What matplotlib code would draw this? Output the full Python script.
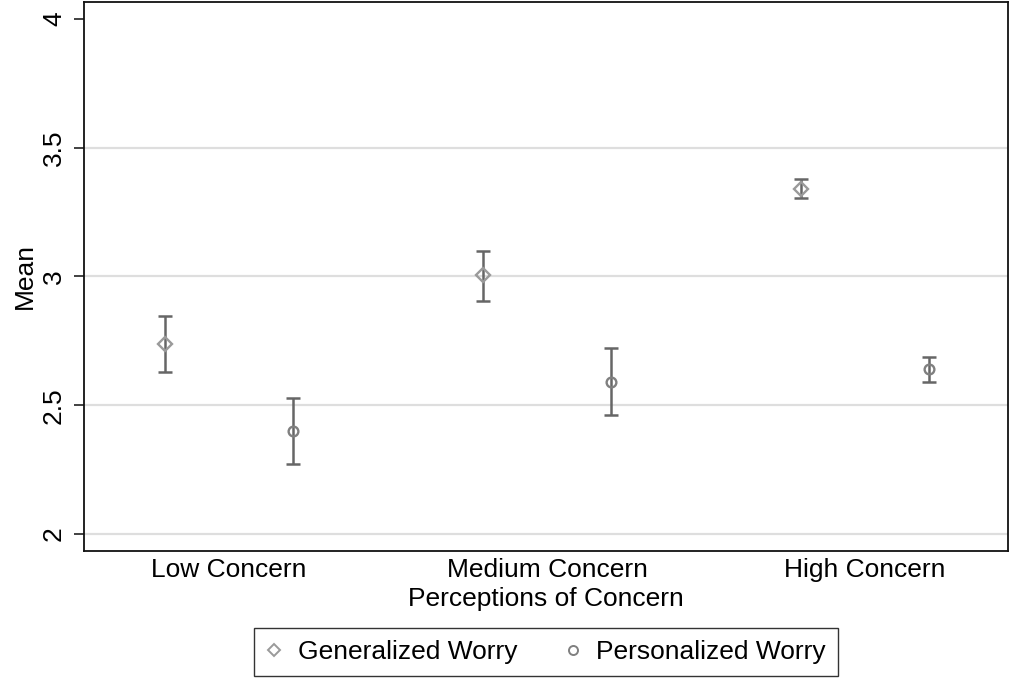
import numpy as np
import matplotlib
matplotlib.use('Agg')
import matplotlib.pyplot as plt
from matplotlib.lines import Line2D

plt.rcParams['font.family'] = ['Liberation Sans', 'DejaVu Sans']

# data
categories = ['Low Concern', 'Medium Concern', 'High Concern']
gen_mean = [2.737, 3.004, 3.341]
gen_lo = [2.629, 2.905, 3.304]
gen_hi = [2.847, 3.100, 3.377]
pers_mean = [2.401, 2.591, 2.640]
pers_lo = [2.270, 2.462, 2.591]
pers_hi = [2.529, 2.721, 2.689]
y_ticks = [2, 2.5, 3, 3.5, 4]
y_labels = ['2', '2.5', '3', '3.5', '4']

bar_col = '#666666'
gen_col = '#9a9a9a'
pers_col = '#808080'
fs = 19

fig = plt.figure(figsize=(10.13, 6.78), dpi=100)
ax = fig.add_axes([84 / 1013, 1 - 550.7 / 678, 924 / 1013, 548.7 / 678])

x = np.arange(len(categories))
off = 0.2

# grid lines
for yv in y_ticks[:-1]:
    ax.axhline(yv, color='#dedede', lw=1.6, zorder=0)

for xs, m, lo, hi, mk, ms, mc in [
        (x - off, gen_mean, gen_lo, gen_hi, 'D', 7, gen_col),
        (x + off, pers_mean, pers_lo, pers_hi, 'o', 7, pers_col)]:
    m = np.array(m)
    err = [m - np.array(lo), np.array(hi) - m]
    ax.errorbar(xs, m, yerr=err, fmt='none', ecolor=bar_col, elinewidth=1.8,
                capsize=5, capthick=1.8, zorder=2)
    ax.plot(xs, m, linestyle='none', marker=mk, markersize=ms,
            markerfacecolor='none', markeredgecolor=mc, markeredgewidth=1.7, zorder=3)

ax.set_xlim(-0.456, 2.45)
ax.set_ylim(1.935, 4.066)
ax.set_xticks(x)
ax.set_xticklabels(categories, fontsize=fs)
ax.set_yticks(y_ticks)
ax.set_yticklabels(y_labels, fontsize=fs, rotation=90, va='center')
ax.tick_params(axis='x', length=0, pad=5)
ax.tick_params(axis='y', length=7, width=1.3, color='#333333', pad=6)
ax.set_ylabel('Mean', fontsize=fs, labelpad=4)
ax.set_xlabel('Perceptions of Concern', fontsize=fs, labelpad=4)
for s in ax.spines.values():
    s.set_linewidth(1.3)
    s.set_color('#111111')

handles = [
    Line2D([], [], linestyle='none', marker='D', markersize=6.5,
           markerfacecolor='none', markeredgecolor=gen_col, markeredgewidth=1.4),
    Line2D([], [], linestyle='none', marker='o', markersize=6.5,
           markerfacecolor='none', markeredgecolor=pers_col, markeredgewidth=1.4),
]
leg = fig.legend(handles, ['Generalized Worry', 'Personalized Worry'], ncol=2,
                 loc='center', bbox_to_anchor=(546 / 1013, 1 - 652 / 678),
                 fontsize=fs, frameon=True, fancybox=False, edgecolor='black',
                 handletextpad=0.6, columnspacing=1.8, borderpad=0.45,
                 handlelength=0.6, borderaxespad=0)
leg.get_frame().set_linewidth(1.0)

fig.savefig('out.png', dpi=100)
